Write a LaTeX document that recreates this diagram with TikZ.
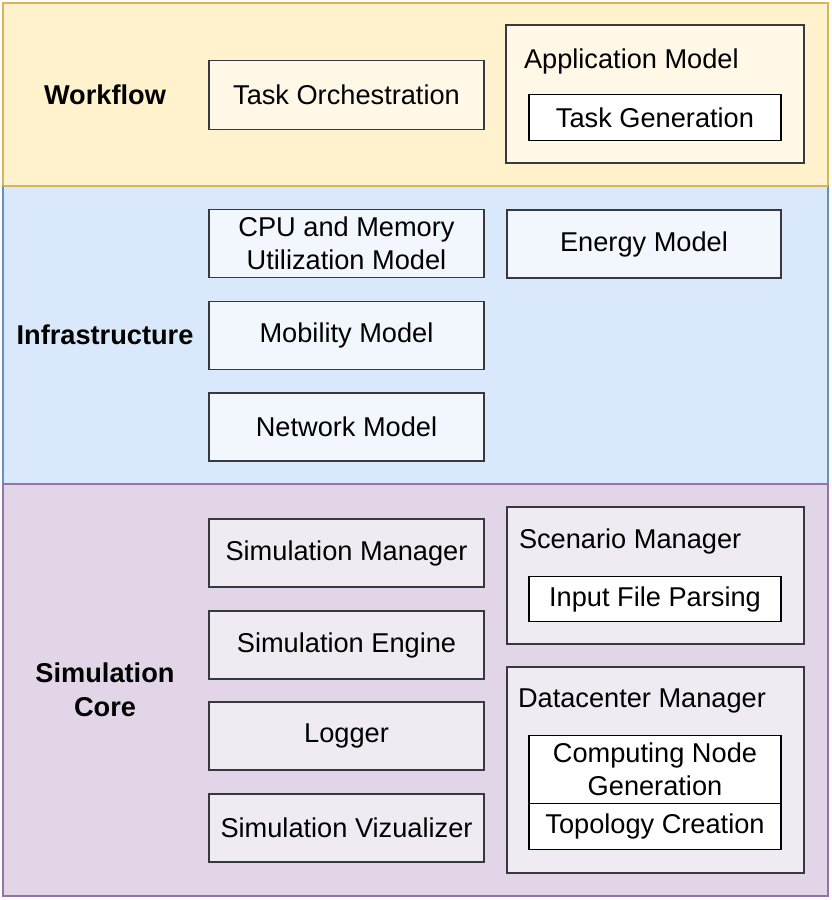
\documentclass[tikz,border=0pt]{standalone}
\usepackage{fontspec}
\setmainfont{Liberation Sans}
\definecolor{wfFill}{HTML}{FFF2CC}
\definecolor{wfLine}{HTML}{D6B656}
\definecolor{inFill}{HTML}{DAE8FC}
\definecolor{inLine}{HTML}{6C8EBF}
\definecolor{scFill}{HTML}{E1D5E7}
\definecolor{scLine}{HTML}{9673A6}
\definecolor{boxLine}{HTML}{36393D}
\begin{document}
\begin{tikzpicture}[x=1pt,y=-1pt,
  every node/.style={font=\fontsize{27.2}{33.5}\selectfont, inner sep=0pt, outer sep=0pt},
  band/.style={draw, line width=1.5pt, rectangle},
  mbox/.style={draw=boxLine, line width=1.6pt, rectangle, align=center},
  wbox/.style={draw=black, line width=1.6pt, fill=white, rectangle, align=center},
  blabel/.style={font=\fontsize{27.2}{33.5}\selectfont\bfseries, align=center},
  tlabel/.style={anchor=west}
]
\useasboundingbox (0,0) rectangle (831,900);
% bands
\node[band, draw=wfLine, fill=wfFill, minimum width=825pt, minimum height=183pt] (wf) at (415.5,94.5) {};
\node[band, draw=inLine, fill=inFill, minimum width=825pt, minimum height=298pt] (inf) at (415.5,335) {};
\node[band, draw=scLine, fill=scFill, minimum width=825pt, minimum height=412pt] (sc) at (415.5,690) {};
\draw[wfLine, line width=1.5pt] (wf.south west) -- (wf.south east);
% band labels
\node[blabel] (lwf) at (105,95) {Workflow};
\node[blabel] (linf) at (105,335) {Infrastructure};
\node[blabel] (lsc) at (105,690) {Simulation\\Core};
% workflow
\node[mbox, fill=white!50!wfFill, minimum width=275pt, minimum height=69pt] (to) at (346.5,95) {Task Orchestration};
\node[mbox, fill=white!50!wfFill, minimum width=298pt, minimum height=138pt] (am) at (655,94) {};
\node[tlabel] (aml) at (524,61) {Application Model};
\node[wbox, minimum width=252pt, minimum height=46pt] (tg) at (655,117.5) {Task Generation};
% infrastructure
\node[mbox, fill=white!65!inFill, minimum width=275pt, minimum height=68pt] (cpu) at (346.5,243.5) {CPU and Memory\\Utilization Model};
\node[mbox, fill=white!65!inFill, minimum width=274pt, minimum height=68pt] (en) at (644,244) {Energy Model};
\node[mbox, fill=white!65!inFill, minimum width=275pt, minimum height=68pt] (mob) at (346.5,335.5) {Mobility Model};
\node[mbox, fill=white!65!inFill, minimum width=275pt, minimum height=68pt] (net) at (346.5,427) {Network Model};
% simulation core
\node[mbox, fill=white!50!scFill, minimum width=275pt, minimum height=68pt] (sm) at (346.5,553) {Simulation Manager};
\node[mbox, fill=white!50!scFill, minimum width=275pt, minimum height=68pt] (se) at (346.5,645) {Simulation Engine};
\node[mbox, fill=white!50!scFill, minimum width=275pt, minimum height=68pt] (lg) at (346.5,736) {Logger};
\node[mbox, fill=white!50!scFill, minimum width=275pt, minimum height=68pt] (sv) at (346.5,828) {Simulation Vizualizer};
\node[mbox, fill=white!50!scFill, minimum width=297pt, minimum height=137pt] (scm) at (655.5,575.5) {};
\node[tlabel] (scml) at (519,541) {Scenario Manager};
\node[wbox, minimum width=252pt, minimum height=45pt] (ifp) at (655,599) {Input File Parsing};
\node[mbox, fill=white!50!scFill, minimum width=297pt, minimum height=206pt] (dcm) at (655.5,770) {};
\node[tlabel] (dcml) at (518,701) {Datacenter Manager};
\node[wbox, minimum width=252pt, minimum height=68pt] (cng) at (655,769.5) {Computing Node\\Generation};
\node[wbox, minimum width=252pt, minimum height=46pt, anchor=north] (tc) at (cng.south) {Topology Creation};
\end{tikzpicture}
\end{document}
